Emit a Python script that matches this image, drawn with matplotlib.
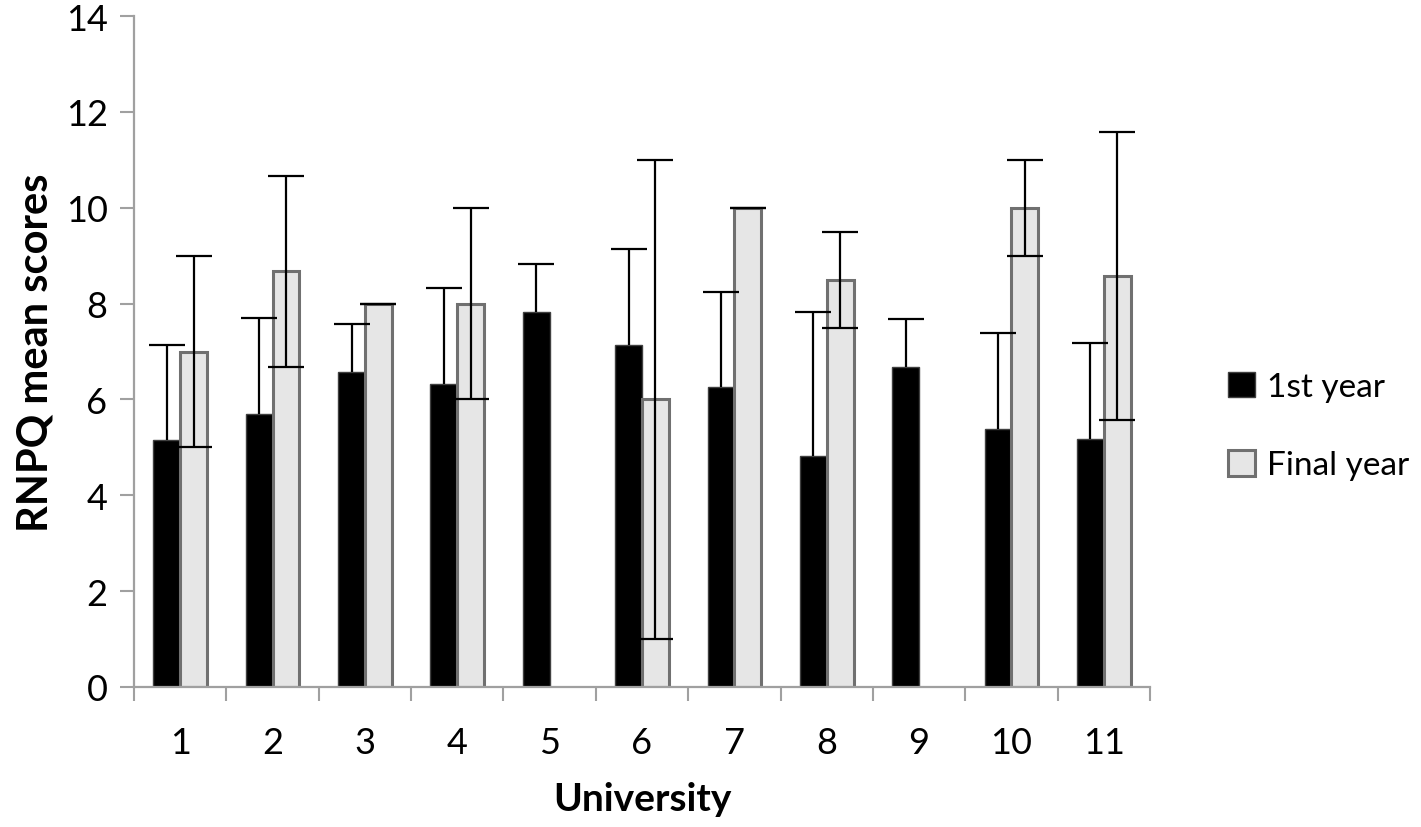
import numpy as np
import matplotlib
matplotlib.use("Agg")
import matplotlib.pyplot as plt

universities = ["1", "2", "3", "4", "5", "6", "7", "8", "9", "10", "11"]
first_year = [5.15, 5.70, 6.58, 6.33, 7.83, 7.13, 6.25, 4.83, 6.67, 5.38, 5.18]
first_year_err = [1.98, 2.00, 1.00, 2.00, 1.00, 2.00, 2.00, 3.00, 1.00, 2.00, 2.00]
final_year = [7.0, 8.67, 8.0, 8.0, np.nan, 6.0, 10.0, 8.5, np.nan, 10.0, 8.57]
final_year_err = [2.0, 2.0, 0.0, 2.0, np.nan, 5.0, 0.0, 1.0, np.nan, 1.0, 3.0]

plt.rcParams["font.family"] = ["Lato", "DejaVu Sans"]

fig = plt.figure(figsize=(14.21, 8.28), dpi=100)
ax = fig.add_axes([134 / 1421, 1 - 688 / 828, (1150 - 134) / 1421, (688 - 17) / 828])

x = np.arange(len(universities))
w = 0.29
zeros = np.zeros(len(x))

ax.bar(x - w / 2, first_year, w, color="black", edgecolor="#404040", linewidth=1,
       label="1st year", zorder=2)
ax.bar(x + w / 2, final_year, w, color="#E6E6E6", edgecolor="#707070", linewidth=2.2,
       label="Final year", zorder=2)

# 1st year: only the upper half of the error bar is shown
eb = ax.errorbar(x - w / 2, first_year, yerr=[zeros, first_year_err], fmt="none",
                 ecolor="black", elinewidth=1.6, capsize=13, capthick=1.6, zorder=3)
for cap in eb[1]:
    if np.allclose(cap.get_ydata(), first_year):
        cap.set_visible(False)
ax.errorbar(x + w / 2, final_year, yerr=final_year_err, fmt="none",
            ecolor="black", elinewidth=1.6, capsize=13, capthick=1.6, zorder=3)

ax.set_xlim(-0.5, len(x) - 0.5)
ax.set_ylim(0, 14)
ax.set_yticks(range(0, 15, 2))

ax.set_xticks(np.arange(-0.5, len(x), 1.0))
ax.set_xticklabels([])
ax.set_xticks(x, minor=True)
ax.set_xticklabels(universities, minor=True)
ax.tick_params(axis="x", which="minor", length=0, pad=28)
ax.tick_params(axis="x", which="major", length=10, width=1.5, color="#A0A0A0")
ax.tick_params(axis="y", length=10, width=1.5, color="#A0A0A0", pad=9)
ax.tick_params(axis="both", which="both", labelsize=26)

for side in ["top", "right"]:
    ax.spines[side].set_visible(False)
for side in ["left", "bottom"]:
    ax.spines[side].set_color("#A0A0A0")
    ax.spines[side].set_linewidth(1.6)

ax.set_ylabel("RNPQ mean scores", fontsize=30, fontweight="bold", labelpad=8)
ax.set_xlabel("University", fontsize=28, fontweight="bold", labelpad=16)

ax.legend(loc="center left", bbox_to_anchor=(1215 / 1421, 1 - 427 / 828),
          bbox_transform=fig.transFigure, frameon=False, fontsize=24,
          handlelength=0.8, handleheight=0.8, handletextpad=0.35, labelspacing=1.45,
          borderaxespad=0)

fig.savefig("out.png", dpi=100)
